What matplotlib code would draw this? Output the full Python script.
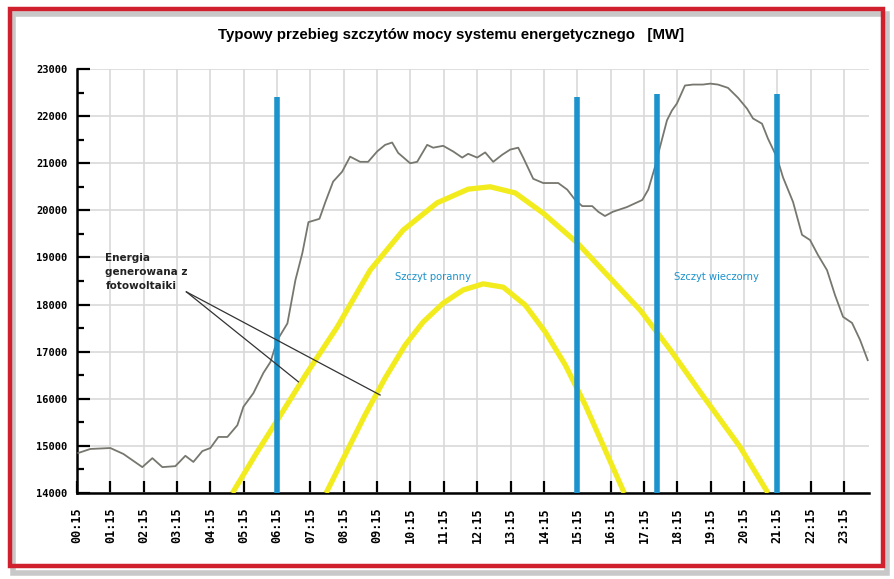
import numpy as np
import matplotlib.pyplot as plt
from matplotlib.patches import Rectangle

# load curve of the power system (hours, MW)
load_hours = [0.29, 0.65, 1.25, 1.64, 2.21, 2.51, 2.81, 3.20, 3.50, 3.74, 4.01, 4.25,
              4.49, 4.76, 5.06, 5.24, 5.54, 5.84, 6.05, 6.26, 6.56, 6.80, 7.01, 7.19,
              7.52, 7.70, 7.93, 8.20, 8.44, 8.74, 8.98, 9.25, 9.49, 9.70, 9.88, 10.24,
              10.45, 10.75, 10.93, 11.23, 11.53, 11.80, 11.98, 12.25, 12.49, 12.73, 13.00,
              13.24, 13.48, 13.63, 13.93, 14.23, 14.68, 14.95, 15.19, 15.40, 15.70, 15.88,
              16.08, 16.32, 16.74, 17.20, 17.38, 17.58, 17.73, 17.94, 18.09, 18.24, 18.48,
              18.72, 19.02, 19.24, 19.47, 19.77, 20.07, 20.34, 20.52, 20.79, 20.97, 21.24,
              21.42, 21.72, 21.99, 22.23, 22.47, 22.74, 22.98, 23.22, 23.49, 23.73, 23.96]
load_mw = [14850, 14935, 14955, 14830, 14550, 14740, 14550, 14570, 14790, 14660, 14890, 14955,
           15190, 15190, 15440, 15830, 16120, 16550, 16780, 17250, 17600, 18520, 19100, 19750,
           19820, 20180, 20610, 20820, 21140, 21030, 21030, 21250, 21390, 21440, 21220, 21000,
           21030, 21390, 21330, 21370, 21250, 21120, 21200, 21120, 21230, 21030, 21180,
           21290, 21330, 21120, 20670, 20580, 20580, 20440, 20220, 20090, 20090, 19970,
           19880, 19970, 20070, 20220, 20440, 20920, 21340, 21910, 22120, 22270, 22650,
           22670, 22670, 22690, 22670, 22600, 22390, 22160, 21950, 21840, 21520, 21120,
           20700, 20180, 19480, 19370, 19050, 18730, 18200, 17740, 17610, 17250, 16820]

# photovoltaic generation arches (schematic)
pv_big_hours = [4.91, 5.60, 6.26, 7.10, 8.05, 9.04, 10.03, 11.05, 11.98, 12.64,
                13.39, 14.23, 15.25, 16.24, 17.14, 18.04, 18.94, 20.13, 20.97]
pv_big_mw = [14000, 14810, 15550, 16500, 17520, 18730, 19580, 20160, 20450, 20500,
             20370, 19940, 19310, 18560, 17880, 17040, 16140, 14980, 14000]
pv_small_hours = [7.72, 8.29, 8.89, 9.49, 10.09, 10.63, 11.23, 11.83, 12.43, 13.03,
                  13.69, 14.29, 14.89, 15.49, 16.09, 16.66]
pv_small_mw = [14000, 14810, 15660, 16440, 17140, 17630, 18030, 18310, 18440, 18370,
               17990, 17420, 16720, 15870, 14910, 14000]

# peak markers
marker_hours = [6.26, 15.25, 17.65, 21.24]
marker_tops = [22400, 22400, 22480, 22480]

tick_hours = [h + 0.25 for h in range(24)]
tick_labels = ["%02d:15" % h for h in range(24)]
y_ticks = list(range(14000, 23001, 1000))

title = "Typowy przebieg szczytów mocy systemu energetycznego   [MW]"

blue = "#1c93cc"
yellow = "#f2ec1e"

fig = plt.figure(figsize=(8.94, 5.79), dpi=100)
fig.patch.set_facecolor("white")

# red frame with a soft shadow
fig.add_artist(Rectangle((0.014, 0.010), 0.978, 0.966, transform=fig.transFigure,
                         facecolor="none", edgecolor="#c8c8c8", linewidth=4, zorder=0))
fig.add_artist(Rectangle((0.011, 0.022), 0.977, 0.962, transform=fig.transFigure,
                         facecolor="none", edgecolor="#d0202e", linewidth=3.2, zorder=1))

ax = fig.add_axes([0.0861, 0.1485, 0.886, 0.7323])

ax.plot(load_hours, load_mw, color="#77776f", linewidth=1.3, zorder=4)

ax.plot(pv_big_hours, pv_big_mw, color=yellow, linewidth=3.8,
        solid_capstyle="butt", solid_joinstyle="round", zorder=3)
ax.plot(pv_small_hours, pv_small_mw, color=yellow, linewidth=3.8,
        solid_capstyle="butt", solid_joinstyle="round", zorder=3)

ax.vlines(marker_hours, 14000, marker_tops, colors=blue, linewidth=4.0, zorder=5)

ax.text(10.93, 18585, "Szczyt poranny", color=blue, fontsize=7.2,
        ha="center", va="center", zorder=6)
ax.text(19.42, 18585, "Szczyt wieczorny", color=blue, fontsize=7.2,
        ha="center", va="center", zorder=6)

ax.text(1.10, 19090, "Energia\ngenerowana z\nfotowoltaiki", fontsize=7.5,
        fontweight="bold", color="#222222", ha="left", va="top",
        linespacing=1.5, zorder=6)
ax.plot([3.53, 6.89], [18270, 16360], color="#333333", linewidth=0.9, zorder=6)
ax.plot([3.53, 9.34], [18270, 16080], color="#333333", linewidth=0.9, zorder=6)

ax.set_xlim(0.25, 24.0)
ax.set_ylim(14000, 23000)
ax.set_xticks(tick_hours)
ax.set_xticklabels(tick_labels, rotation=90, family="DejaVu Sans Mono",
                   fontsize=8.5, fontweight="bold")
ax.set_yticks(y_ticks)
ax.set_yticklabels([str(v) for v in y_ticks], family="DejaVu Sans Mono",
                   fontsize=7.5, fontweight="bold")
ax.set_yticks(list(range(14500, 23000, 1000)), minor=True)

ax.grid(True, which="major", color="#d9d9d9", linewidth=1.2, zorder=0)
ax.set_axisbelow(True)

ax.tick_params(axis="both", which="major", direction="in", length=9, width=1.6,
               color="black", pad=7)
ax.tick_params(axis="x", which="major", pad=10)
ax.tick_params(axis="y", which="minor", direction="in", length=5, width=1.6,
               color="black")

for side in ["top", "right"]:
    ax.spines[side].set_visible(False)
for side in ["left", "bottom"]:
    ax.spines[side].set_linewidth(1.8)
    ax.spines[side].set_color("black")

fig.text(0.505, 0.94, title, ha="center", va="center", fontsize=10.8,
         fontweight="bold", family=["Liberation Sans Narrow", "Liberation Sans"])

fig.savefig("out.png", dpi=100)
